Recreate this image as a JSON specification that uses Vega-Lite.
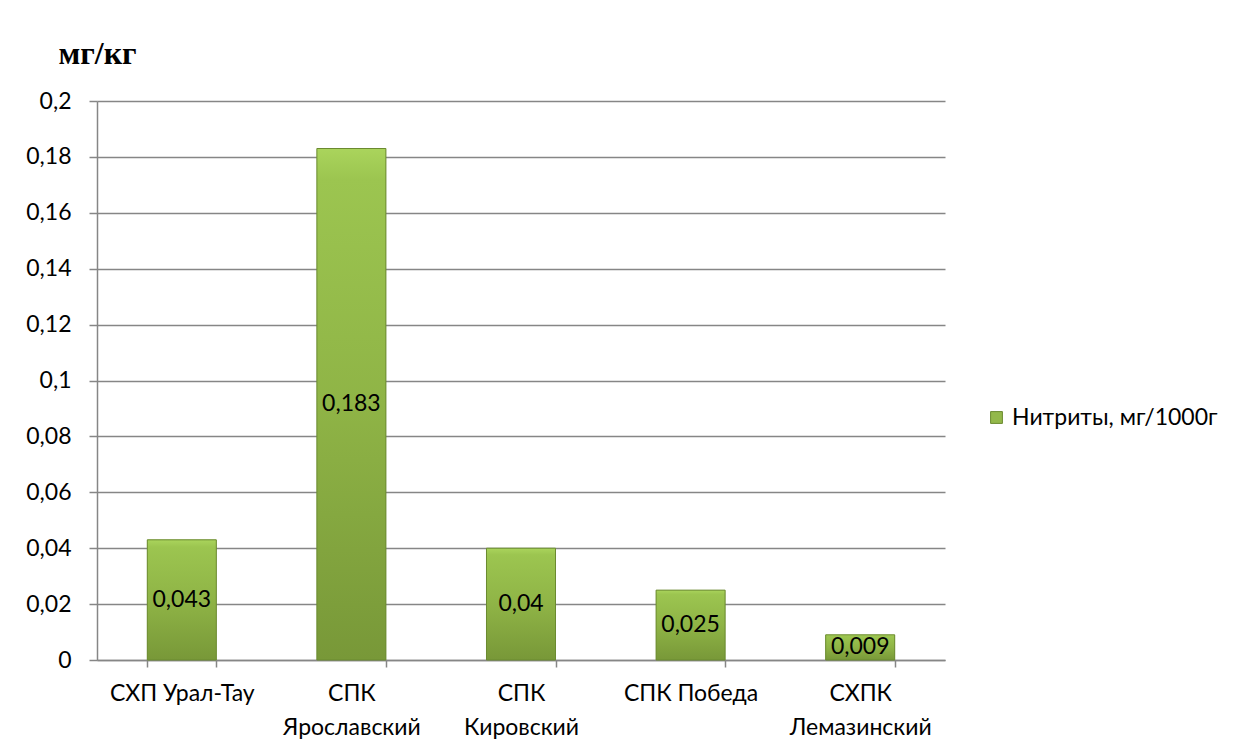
{
  "$schema": "https://vega.github.io/schema/vega-lite/v6.json",
  "width": 848,
  "height": 559,
  "autosize": {"type": "none"},
  "padding": {"left": 97, "top": 101, "right": 306, "bottom": 94},
  "background": "white",
  "config": {
    "view": {"stroke": null},
    "font": "Lato",
    "locale": {"number": {"decimal": ",", "thousands": " ", "grouping": [3], "currency": ["", ""]}}
  },
  "data": {
    "values": [
      {"farm": "СХП Урал-Тау", "v": 0.043},
      {"farm": "СПК Ярославский", "v": 0.183},
      {"farm": "СПК Кировский", "v": 0.04},
      {"farm": "СПК Победа", "v": 0.025},
      {"farm": "СХПК Лемазинский", "v": 0.009}
    ]
  },
  "transform": [{"calculate": "datum.v/2", "as": "mid"}],
  "encoding": {
    "x": {
      "field": "farm",
      "type": "nominal",
      "sort": null,
      "scale": {"paddingInner": 0.593, "paddingOuter": 0.2965},
      "axis": {
        "title": null,
        "labelAngle": 0,
        "labelFontSize": 23,
        "labelColor": "black",
        "labelLimit": 300,
        "labelPadding": 15,
        "labelLineHeight": 34,
        "labelExpr": "length(datum.label) > 12 ? split(datum.label, ' ') : datum.label",
        "tickBand": "extent",
        "tickSize": 7,
        "tickColor": "#868686",
        "tickWidth": 1.5,
        "domainColor": "#868686",
        "domainWidth": 1.5
      }
    },
    "y": {
      "field": "v",
      "type": "quantitative",
      "title": "мг/кг",
      "scale": {"domain": [0, 0.2]},
      "axis": {
        "values": [0, 0.02, 0.04, 0.06, 0.08, 0.1, 0.12, 0.14, 0.16, 0.18, 0.2],
        "format": ".2~f",
        "labelFontSize": 23,
        "labelColor": "black",
        "labelPadding": 18,
        "tickSize": 8,
        "tickColor": "#868686",
        "tickWidth": 1.5,
        "domainColor": "#868686",
        "domainWidth": 1.5,
        "gridColor": "#868686",
        "gridWidth": 1.5,
        "titleAngle": 0,
        "titleX": 0,
        "titleY": -38,
        "titleAlign": "center",
        "titleBaseline": "alphabetic",
        "titleFont": "Liberation Serif",
        "titleFontSize": 32,
        "titleFontWeight": "bold",
        "titleColor": "black"
      }
    }
  },
  "layer": [
    {
      "mark": {"type": "bar"},
      "encoding": {
        "color": {
          "datum": "Нитриты, мг/1000г",
          "type": "nominal",
          "scale": {"range": ["#93b84a"]},
          "legend": {
            "title": null,
            "orient": "none",
            "legendX": 888,
            "legendY": 305,
            "symbolType": "square",
            "symbolSize": 140,
            "symbolStrokeColor": "#6b8a30",
            "symbolStrokeWidth": 1,
            "labelFontSize": 23,
            "labelColor": "black",
            "labelLimit": 400,
            "labelOffset": 4
          }
        }
      }
    },
    {
      "mark": {
        "type": "bar",
        "fill": {
          "gradient": "linear",
          "x1": 0, "y1": 0, "x2": 0, "y2": 1,
          "stops": [
            {"offset": 0, "color": "#aad45c"},
            {"offset": 0.06, "color": "#9cc550"},
            {"offset": 0.5, "color": "#8fb446"},
            {"offset": 1, "color": "#789838"}
          ]
        },
        "stroke": "#6b8a30",
        "strokeWidth": 1
      }
    },
    {
      "mark": {"type": "text", "fontSize": 23, "color": "black"},
      "encoding": {
        "y": {"field": "mid", "type": "quantitative", "title": "мг/кг"},
        "text": {"field": "v", "type": "quantitative", "format": ".3~f"}
      }
    }
  ]
}
